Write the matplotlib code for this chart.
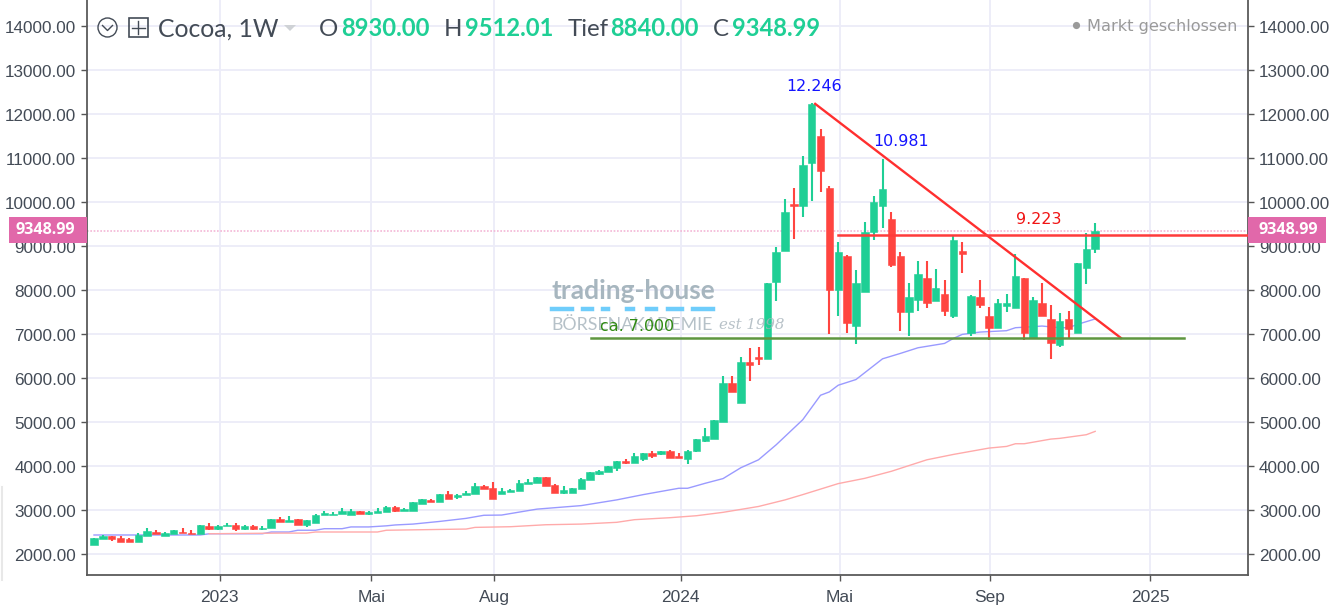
import matplotlib
matplotlib.use("Agg")
import matplotlib.pyplot as plt
from matplotlib.lines import Line2D
from matplotlib.patches import Circle, Rectangle, Polygon
from matplotlib.transforms import ScaledTranslation

opens = [2205,2350,2400,2370,2341,2273,2417,2508,2417,2447,2508,2485,2447,2629,2561,2636,2667,2561,2629,2561,
         2591,2795,2735,2795,2659,2705,2894,2886,2909,2886,2977,2902,2932,2950,3076,2977,2970,3144,3228,3190,
         3357,3289,3334,3365,3540,3502,3372,3410,3433,3585,3616,3752,3578,3395,3395,3470,3684,3828,3866,3965,
         4125,4079,4148,4292,4262,4330,4216,4148,4330,4566,4620,5000,5897,5441,6353,6467,6430,8178,8885,9950,
         9918,10884,11507,10329,8003,8763,7175,7965,9310,9918,9622,8763,7494,7783,8262,7745,7912,7418,8877,7023,
         7836,7418,7137,7638,7593,8277,6909,7699,7342,6742,7342,7023,8490,8930]
highs = [2370,2430,2405,2400,2371,2477,2583,2553,2508,2555,2583,2538,2655,2705,2659,2705,2705,2659,2659,2629,
         2795,2833,2871,2800,2770,2900,2977,2955,3053,3023,2985,2977,3038,3080,3080,3035,3185,3255,3258,3360,
         3433,3357,3433,3616,3578,3646,3502,3468,3692,3714,3755,3755,3580,3540,3505,3716,3862,3900,4006,4110,
         4155,4292,4295,4330,4333,4368,4292,4368,4606,4862,5040,6041,6041,6467,6672,6695,8166,8976,10078,10329,
         11051,12246,11651,10367,9090,8790,8444,9546,10131,10981,9766,8870,8163,8657,8657,8482,8231,9242,9090,7890,
         8231,7623,7806,7912,8809,8280,7836,8163,7669,7479,7517,8620,9303,9512]
lows = [2200,2345,2300,2270,2270,2270,2415,2445,2415,2445,2480,2445,2445,2555,2555,2630,2523,2555,2555,2555,
        2590,2730,2730,2660,2621,2700,2890,2880,2905,2880,2910,2886,2930,2945,2965,2975,2968,3140,3175,3188,
        3250,3258,3330,3362,3475,3255,3370,3408,3430,3582,3612,3538,3392,3365,3392,3468,3680,3790,3862,3897,
        4041,4075,4110,4186,4258,4190,4183,4041,4326,4535,4616,4996,5680,5437,5935,6292,6426,7745,8880,9166,
        9660,10025,10230,7000,7418,7030,6772,7960,9143,9417,8520,7060,6962,7532,7593,7740,7418,7365,8383,6962,
        7593,6863,7130,7494,7590,6863,6900,7410,6422,6700,6886,7020,8140,8840]
closes = [2364,2409,2340,2273,2273,2432,2515,2447,2477,2553,2485,2447,2652,2561,2629,2667,2561,2629,2561,2591,
          2788,2735,2765,2667,2765,2894,2939,2917,2985,2977,2917,2947,2977,3076,2970,3030,3182,3251,3182,3357,
          3258,3350,3388,3540,3479,3258,3426,3464,3616,3646,3752,3540,3395,3464,3502,3714,3859,3897,4003,4110,
          4079,4224,4292,4231,4330,4193,4186,4330,4604,4680,5038,5897,5684,6353,6292,6436,8163,8862,9766,9920,
          10838,12229,10709,8003,8870,7243,8163,9326,10010,10298,8566,7494,7836,8368,7707,8049,7532,9128,8816,7874,
          7669,7137,7699,7699,8307,7023,7775,7418,6787,7304,7114,8619,8938,9348.99]

blue_weeks = [0,12,13,19,20,22,23,25,26,28,29,31,33,34,36,39,42,44,46,50,55,59,62,66,67,69,71,73,75,77,80,82,83,84,86,89,91,93,96,97,98,100,103,104,106,107,109,110,111,113]
blue_vals = [2432,2432,2460,2460,2500,2500,2540,2540,2575,2575,2615,2615,2640,2660,2680,2740,2810,2880,2885,3020,3100,3230,3350,3494,3494,3608,3714,3960,4141,4483,5053,5608,5684,5836,5965,6436,6558,6687,6786,6900,6991,7044,7075,7143,7166,7181,7143,7143,7219,7342]
red_weeks = [13,21,24,25,32,33,42,43,47,51,55,59,61,65,68,71,75,78,80,84,87,90,94,97,101,103,104,105,108,109,112,113]
red_vals = [2460,2475,2475,2500,2500,2540,2567,2605,2620,2665,2680,2720,2780,2825,2870,2947,3080,3230,3350,3600,3720,3880,4141,4263,4407,4445,4506,4506,4612,4628,4711,4787]

tick_weeks = [14.2,31.3,45.2,66.2,84.2,101.1,119.2]
tick_labels = ["2023","Mai","Aug","2024","Mai","Sep","2025"]
price_ticks = list(range(2000,15000,1000))
last_price = 9348.99
header = [("O",319,"8930.00",341),("H",444,"9512.01",465),("Tief",568,"8840.00",610),("C",713,"9348.99",732)]

W,H = 1332,610
GREEN,RED = "#1fcf95","#ff4540"
DARK,GRID = "#434b56","#ececf8"
PINK = "#e168aa"

plt.rcParams["font.family"] = ["Liberation Sans","DejaVu Sans"]
fig = plt.figure(figsize=(W/100,H/100),dpi=100)
ax = fig.add_axes([87/W,1-575/H,(1248-87)/W,575/H])

X0,PXW = 94,8.86
ax.set_xlim((87-X0)/PXW,(1248-X0)/PXW)
ax.set_ylim(2000-(575-554)/0.044,2000+554/0.044)

ax.set_axisbelow(True)
ax.grid(True,color=GRID,lw=1.3)
ax.set_xticks(tick_weeks,tick_labels)
ax.set_yticks(price_ticks,[f"{p:.2f}" for p in price_ticks])
ax.tick_params(axis="y",left=True,right=True,labelleft=True,labelright=True,length=4.5,width=1,color="#555",labelsize=12.3,labelcolor=DARK,pad=3.5)
ax.tick_params(axis="x",length=4.5,width=1,color="#555",labelsize=12.5,labelcolor=DARK,pad=6.5)
ax.spines["top"].set_visible(False)
for s in ("left","right","bottom"):
    ax.spines[s].set_color("#5a5a5a"); ax.spines[s].set_linewidth(1.3)
shift = ScaledTranslation(0,-1/100,fig.dpi_scale_trans)
for t in ax.yaxis.get_major_ticks():
    for lab in (t.label1,t.label2):
        lab.set_transform(lab.get_transform()+shift)

def P(x,y):
    return x/W,1-y/H

# watermark (figure coordinates)
wm = dict(transform=fig.transFigure,va="center",ha="left",zorder=4.5,clip_on=False)
ax.text(*P(551,291),"trading-house",family="Lato",weight="bold",fontsize=19,color="#a7b6bf",**wm)
for a,b in [(552,572),(583,592),(603,608),(627,633),(647,656),(668,682),(693,713)]:
    ax.add_line(Line2D([a/W,b/W],[1-309/H]*2,color="#6fcdfb",lw=3.2,transform=fig.transFigure,zorder=1.5))
ax.text(*P(551,325),"BÖRSENAKADEMIE",family="Lato",fontsize=12.8,color="#b6c1c8",**wm)
ax.text(*P(719,325),"est 1998",family="DejaVu Serif",style="italic",fontsize=10.8,color="#a7b3bb",alpha=0.8,**wm)

# moving averages
ax.plot(blue_weeks,blue_vals,color="#9a9aff",lw=1,zorder=2)
ax.plot(red_weeks,red_vals,color="#ffaaaa",lw=1,zorder=2)

# last price line
ax.axhline(last_price,color="#f3b6d6",lw=1.2,ls=(0,(1,1)),zorder=2)

# candles
weeks = list(range(len(opens)))
cols = [GREEN if c>=o else RED for o,c in zip(opens,closes)]
ax.vlines(weeks,lows,highs,colors=cols,lw=1.5,zorder=3)
ax.bar(weeks,[abs(c-o) for o,c in zip(opens,closes)],bottom=[min(o,c) for o,c in zip(opens,closes)],
       width=0.84,color=cols,lw=0.4,edgecolor=cols,zorder=3.2)

# drawings
ax.plot([81.4,115.9],[12230,6910],color="#ff2f2f",lw=1.7,zorder=4)
ax.plot([84,130.25],[9261,9261],color="#ff3b3b",lw=1.8,zorder=4)
ax.plot([56.1,123],[6909,6909],color="#5e9640",lw=1.8,zorder=4)
ann = dict(family="DejaVu Sans",fontsize=11.4,ha="center",va="center",zorder=5)
ax.text(81.3,12620,"12.246",color="#1414ff",**ann)
ax.text(91.1,11385,"10.981",color="#1414ff",**ann)
ax.text(106.6,9610,"9.223",color="#f01414",**ann)
ax.text(61.3,7180,"ca. 7.000",color="#2f8a12",**ann)

# price labels
for x0,off in ((9,36.5),(1248,40)):
    fig.add_artist(Rectangle(P(x0,243),78/W,26/H,transform=fig.transFigure,color=PINK,lw=0,zorder=6))
    fig.text(*P(x0+off,230.5),f"{last_price:.2f}",family="Open Sans",weight="bold",
             fontsize=11.6,color="white",ha="center",va="center",zorder=7)

# header
head = dict(family="Lato",fontsize=17.3,va="center",ha="left")
fig.text(158/W,1-29/H,"Cocoa, 1W",color=DARK,family="Lato",fontsize=17.8,va="center",ha="left")
for lab,lx,val,vx in header:
    fig.text(*P(lx,29),lab,color=DARK,**head)
    fig.text(*P(vx,29),val,color=GREEN,weight="bold",**{**head,"fontsize":17.1})
fig.add_artist(Polygon([P(284,25),P(296,25),P(290,31)],closed=True,transform=fig.transFigure,color="#cfd2d6",lw=0))
# header icons
ic = fig.add_axes([0,0,1,1],frameon=False); ic.set_xlim(0,W); ic.set_ylim(H,0); ic.axis("off"); ic.patch.set_alpha(0)
ic.add_patch(Circle((107.5,27.5),9.5,fill=False,ec=DARK,lw=1))
ic.plot([102.5,107.5,112.5],[25.5,30.5,25.5],color=DARK,lw=1)
ic.add_patch(Rectangle((129,18),18.5,18.5,fill=False,ec=DARK,lw=1.2))
ic.plot([138,138],[21,34],color=DARK,lw=1); ic.plot([132,145],[27.5,27.5],color=DARK,lw=1)
ic.plot([1.5,1.5],[487,580],color="#e8e8e8",lw=1.5)
ic.add_patch(Circle((1076.5,25.5),3.6,color="#9a9a9a",lw=0))
ic.text(1087,26,"Markt geschlossen",family="DejaVu Sans",fontsize=11.6,color="#9a9a9a",va="center",ha="left")

fig.savefig("out.png",dpi=100)
